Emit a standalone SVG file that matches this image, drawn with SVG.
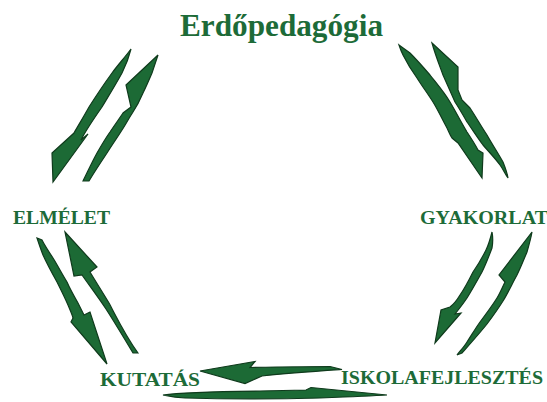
<svg xmlns="http://www.w3.org/2000/svg" width="547" height="402" viewBox="0 0 547 402">
<style>
.lbl{font-family:"Liberation Serif","Times New Roman",serif;font-weight:bold;fill:#1d6b38;font-size:18px}
.title{font-family:"Liberation Serif","Times New Roman",serif;font-weight:bold;fill:#1d6b38;font-size:32px}
.arr{fill:#1c6a35;stroke:#0f3a1c;stroke-width:1.2;stroke-linejoin:miter}
</style>
<rect width="547" height="402" fill="#ffffff"/>
<g id="erdopedagogia"><text class="title" x="180" y="36" textLength="203" lengthAdjust="spacingAndGlyphs">Erdőpedagógia</text></g>
<g id="elmelet"><text class="lbl" x="13" y="224" textLength="97" lengthAdjust="spacingAndGlyphs">ELMÉLET</text></g>
<g id="gyakorlat"><text class="lbl" x="420" y="224" textLength="128" lengthAdjust="spacingAndGlyphs">GYAKORLAT</text></g>
<g id="kutatas"><text class="lbl" x="100" y="386" textLength="100" lengthAdjust="spacingAndGlyphs">KUTATÁS</text></g>
<g id="iskolafejlesztes"><text class="lbl" x="341" y="384" textLength="202" lengthAdjust="spacingAndGlyphs">ISKOLAFEJLESZTÉS</text></g>
<g id="connectors">
<path class="arr" d="M131,49 C125,57 118,65 112,73 C104,84 96,96 89,107 C84,116 78,126 74,133 L52,153 L53,182 L88,134 L81,140 C85,132 95,117 102,107 C108,97 116,84 122,73 C126,65 129,57 131,49 Z"/>
<path class="arr" d="M83,181 C88,171 92,162 97,153 C101,146 105,139 110,132 C114,126 119,119 123,113 L131,107 L126,85 L158,55 C156,61 154,67 152,73 C149,80 146,87 143,93 C140,100 137,106 133,112 C129,118 126,124 122,130 C117,138 112,145 107,153 C101,162 95,171 89,181 Z"/>
<path class="arr" d="M399,45 C403,48 406,50 410,53 C417,60 424,68 430,75 C437,84 444,92 450,102 C456,112 461,122 467,132 C471,138 475,144 478,150 L483,153 L482,178 L458,143 L452,138 C450,135 449,132 447,128 C442,119 438,110 433,102 C428,94 422,86 417,78 C412,71 407,63 403,55 C401,51 400,48 399,45 Z"/>
<path class="arr" d="M432,43 L458,67 L458,90 L462,100 L466,104 C468,106 469,107 470,108 C476,117 481,126 487,135 C492,144 498,153 503,162 C505,167 507,172 508,178 C505,174 503,169 500,165 C495,158 489,152 483,145 C477,137 472,129 467,122 C463,115 459,108 455,102 C451,93 447,84 443,75 C439,64 435,54 432,43 Z"/>
<path class="arr" d="M37,238 C39,244 41,250 43,255 C47,264 52,273 57,282 C61,290 65,298 68,305 C70,310 72,314 73,318 L71,322 L107,364 L90,312 L84,315 C82,311 80,307 78,303 C74,296 70,289 67,282 C62,274 58,266 53,258 C49,252 45,246 42,240 Z"/>
<path class="arr" d="M65,232 L97,267 L90,272 C96,282 103,293 109,303 C117,318 125,335 138,353 C136,353 135,353 133,353 C124,338 115,323 106,309 C98,297 89,285 82,275 L74,276 Z"/>
<path class="arr" d="M492,232 C490,240 488,246 486,250 C482,258 478,265 473,272 C469,280 465,288 460,295 C457,300 454,304 450,307 L441,310 L435,343 L461,313 L455,314 C459,309 463,304 467,298 C472,290 477,281 482,272 C486,264 489,256 492,248 C493,242 493,237 492,232 Z"/>
<path class="arr" d="M532,232 L499,275 L505,282 C502,288 500,293 497,298 C492,306 486,314 480,322 C475,329 471,336 467,342 C464,347 460,351 457,355 C459,354 460,354 462,353 C470,344 479,334 487,324 C493,316 498,309 503,301 C508,293 512,284 517,275 C521,267 524,259 527,252 C529,245 531,238 532,232 Z"/>
<path class="arr" d="M200,371 L255,361.5 L250,367.5 C275,367 305,366.5 330,366.5 L342,369.5 C320,371 290,373 262,376 L245,383.5 Z"/>
<path class="arr" d="M163,395 C180,392.5 220,391.5 260,391 C285,390.5 300,390 306,390 L311,387.5 L387,395 C370,396 345,397 320,398 C280,399 220,399 185,398 C175,397.5 168,396 163,395 Z"/>
</g>
</svg>
